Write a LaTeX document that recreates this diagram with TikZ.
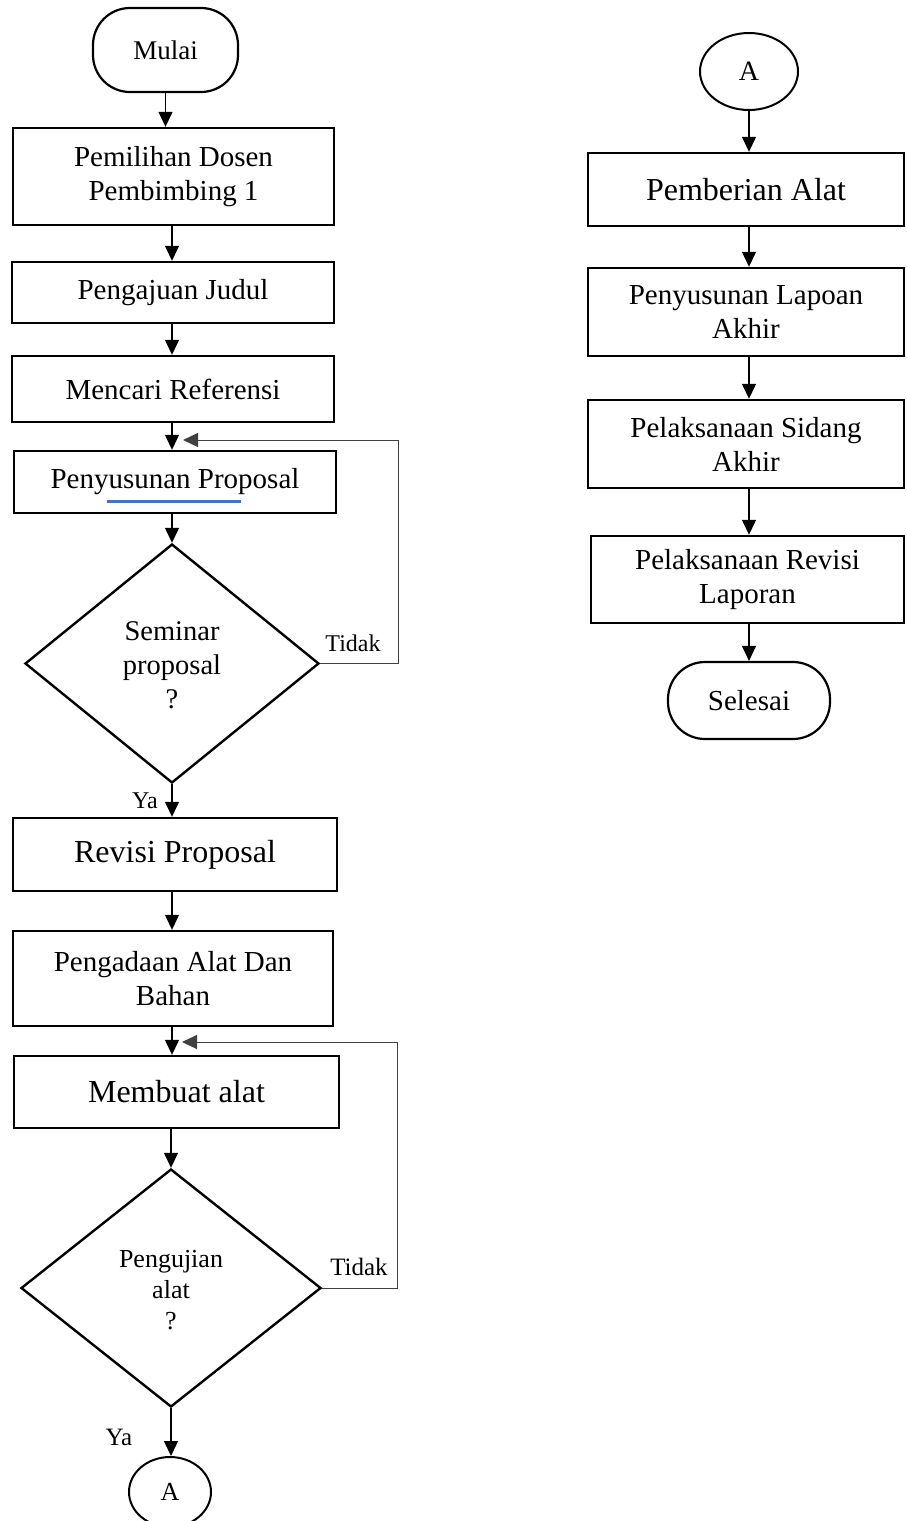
\documentclass[tikz,border=0pt]{standalone}
\usepackage{fontspec}
\setmainfont{Liberation Serif}
\usetikzlibrary{arrows.meta,shapes.geometric,calc}
\begin{document}
\begin{tikzpicture}[x=1pt,y=-1pt,
  box/.style={draw,line width=2.4pt,inner sep=0pt,align=center,font=\fontsize{29}{34}\selectfont},
  bigbox/.style={box,font=\fontsize{32}{36}\selectfont},
  term/.style={draw,line width=2.2pt,rounded corners=37pt,inner sep=0pt,font=\fontsize{27}{30}\selectfont},
  conn/.style={draw,ellipse,line width=2pt,inner sep=0pt,font=\fontsize{26}{30}\selectfont},
  dec/.style={draw,diamond,line width=2.4pt,inner sep=0pt,aspect=1.23},
  dectext/.style={align=center,inner sep=0pt},
  lbl/.style={inner sep=0pt,font=\fontsize{24}{28}\selectfont},
  arr/.style={-{Triangle[width=14pt,length=15pt]},line width=1.3pt},
  fb/.style={line width=1pt,draw=black!75}
]
\useasboundingbox (0,0) rectangle (906,1521);

% left column
\node[term,minimum width=145pt,minimum height=84pt] (mulai) at (165.5,50) {Mulai};
\node[box,minimum width=321pt,minimum height=97pt] (b1) at (173.5,176.5) {Pemilihan Dosen\\Pembimbing 1};
\node[box,minimum width=322pt,minimum height=61pt] (b2) at (173,292.5) {Pengajuan Judul};
\node[box,minimum width=322pt,minimum height=66pt] (b3) at (173,389) {Mencari Referensi};
\node[box,minimum width=322pt,minimum height=62pt] (b4) at (175,482) {Penyusunan Proposal};
\node[dec,minimum width=294pt,minimum height=239pt] (d1) at (172,663.5) {};
\node[dectext,font=\fontsize{28.5}{34}\selectfont] (d1t) at (172,665) {Seminar\\proposal\\?};
\node[bigbox,minimum width=324pt,minimum height=73pt] (b5) at (175,854.5) {Revisi Proposal};
\node[box,minimum width=320pt,minimum height=95pt] (b6) at (173,978.5) {Pengadaan Alat Dan\\Bahan};
\node[bigbox,minimum width=325pt,minimum height=72pt] (b7) at (176.5,1092) {Membuat alat};
\node[dec,minimum width=300pt,minimum height=238pt] (d2) at (171,1288) {};
\node[dectext,font=\fontsize{26}{31}\selectfont] (d2t) at (171,1290) {Pengujian\\alat\\?};
\node[conn,minimum width=82pt,minimum height=70pt] (a1) at (170,1492) {A};

% labels
\node[lbl] (t1) at (353,643) {Tidak};
\node[lbl] (y1) at (145,801) {Ya};
\node[lbl,font=\fontsize{25}{28}\selectfont] (t2) at (359,1267) {Tidak};
\node[lbl,font=\fontsize{25}{28}\selectfont] (y2) at (119,1437) {Ya};

% underline
\draw[line width=2.6pt,draw={rgb,255:red,68;green,114;blue,196}] (107,501.5) -- (241,501.5);

% right column
\node[conn,minimum width=98pt,minimum height=77pt,font=\fontsize{28}{30}\selectfont] (a2) at (749,71.5) {A};
\node[bigbox,minimum width=316pt,minimum height=73pt] (r1) at (746,189.5) {Pemberian Alat};
\node[box,minimum width=316pt,minimum height=88pt] (r2) at (746,312) {Penyusunan Lapoan\\Akhir};
\node[box,minimum width=316pt,minimum height=88pt] (r3) at (746,444) {Pelaksanaan Sidang\\Akhir};
\node[box,minimum width=313pt,minimum height=87pt] (r4) at (747.5,579.5) {Pelaksanaan Revisi\\Laporan};
\node[term,minimum width=162pt,minimum height=77pt,font=\fontsize{29}{32}\selectfont] (sel) at (749,700.5) {Selesai};

% arrows left
\draw[arr] (mulai.south) -- (mulai.south |- b1.north);
\draw[arr] (d1.north |- b1.south) -- (d1.north |- b2.north);
\draw[arr] (d1.north |- b2.south) -- (d1.north |- b3.north);
\draw[arr] (d1.north |- b3.south) -- (d1.north |- b4.north);
\draw[arr] (d1.north |- b4.south) -- (d1.north);
\draw[arr] (d1.south) -- (d1.south |- b5.north);
\draw[arr] (d1.north |- b5.south) -- (d1.north |- b6.north);
\draw[arr] (d1.north |- b6.south) -- (d1.north |- b7.north);
\draw[arr] (d2.north |- b7.south) -- (d2.north);
\draw[arr] (d2.south) -- (d2.south |- a1.north);

% feedback loops
\coordinate (f1) at (398,440);
\coordinate (m1) at (183,440);
\draw[fb] (d1.east) -- (d1.east -| f1) -- (f1);
\draw[fb,-{Triangle[width=14pt,length=15pt]}] (f1) -- (m1);
\coordinate (f2) at (397,1042);
\coordinate (m2) at (182,1042);
\draw[fb] (d2.east) -- (d2.east -| f2) -- (f2);
\draw[fb,-{Triangle[width=14pt,length=15pt]}] (f2) -- (m2);

% arrows right
\draw[arr] (a2.south) -- (a2.south |- r1.north);
\draw[arr] (a2.south |- r1.south) -- (a2.south |- r2.north);
\draw[arr] (a2.south |- r2.south) -- (a2.south |- r3.north);
\draw[arr] (a2.south |- r3.south) -- (a2.south |- r4.north);
\draw[arr] (a2.south |- r4.south) -- (a2.south |- sel.north);
\end{tikzpicture}
\end{document}
